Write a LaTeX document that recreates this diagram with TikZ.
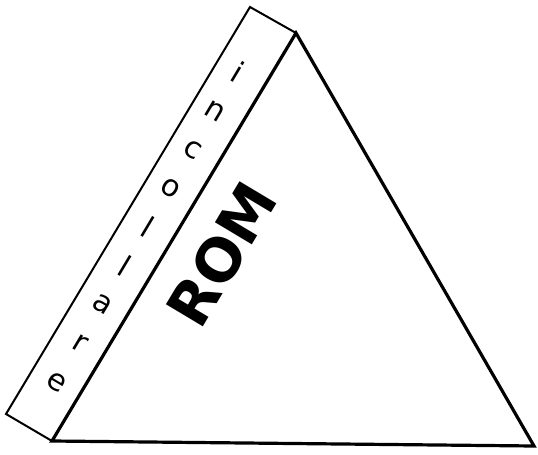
\documentclass[tikz,border=0pt]{standalone}
\usepackage{fontspec}
\setmainfont{DejaVu Sans}
\usepackage{tikz}
\usetikzlibrary{calc}
\tikzset{
    flap/.style={draw, line width=2pt, line join=miter},
    face/.style={draw, line width=3.2pt, line join=miter},
    flapletter/.style={font=\fontsize{30}{30}\selectfont, rotate=-30.9, inner sep=0pt},
    facelabel/.style={font=\fontsize{59}{59}\selectfont\bfseries, rotate=59.1, inner sep=0pt},
}

\begin{document}
\begin{tikzpicture}[x=1pt, y=-1pt]
    \useasboundingbox (0,0) rectangle (538,455);
    % --- corners of the face ---
    \coordinate (a) at (52,441);
    \coordinate (t) at (296,33);
    \coordinate (b) at (534,446);
    % --- glue flap ---
    \coordinate (fa) at (6,414);
    \coordinate (ft) at (250,7);
    \draw[flap] (a) -- (fa) -- (ft) -- (t);
    \coordinate (li) at (238,72);
    \coordinate (le) at (57,382);
    \foreach \ch [count=\k from 0] in {i,n,c,o,l,l,a,r,e}
        \node[flapletter] (letter\k) at ($(li)!\k/8!(le)$) {\ch};
    % --- face ---
    \draw[face] (a) -- (t) -- (b) -- cycle;
    \node[facelabel] (rom) at (222,254) {ROM};
\end{tikzpicture}
\end{document}
